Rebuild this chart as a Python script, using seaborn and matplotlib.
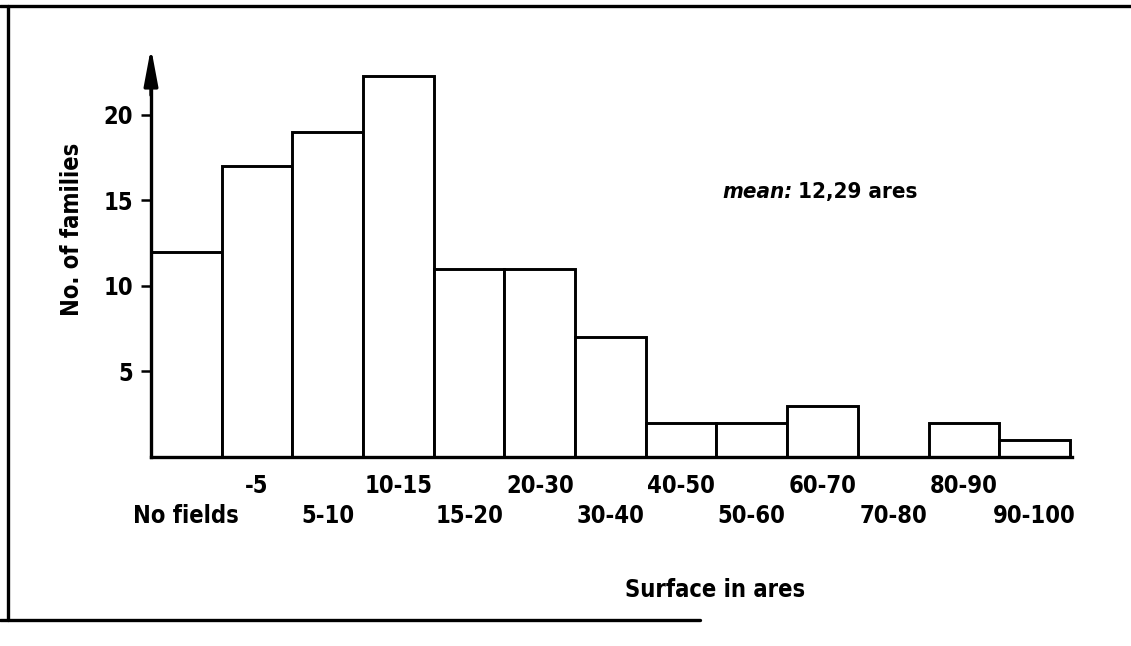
import matplotlib
matplotlib.use("Agg")
import matplotlib.pyplot as plt
from matplotlib.lines import Line2D
import seaborn as sns

# ---- data ----
categories = ["No fields", "-5", "5-10", "10-15", "15-20", "20-30", "30-40",
              "40-50", "50-60", "60-70", "70-80", "80-90", "90-100"]
families = [12, 17, 19, 22.3, 11, 11, 7, 2, 2, 3, 0, 2, 1]
yticks = [5, 10, 15, 20]
ylabel = "No. of families"
xlabel = "Surface in ares"
mean_label = "12,29 ares"

sns.set_style("white")
plt.rcParams["font.family"] = ["DejaVu Sans"]
plt.rcParams["font.stretch"] = "condensed"
plt.rcParams["font.weight"] = "bold"
plt.rcParams["text.color"] = "black"
plt.rcParams["xtick.color"] = "black"
plt.rcParams["ytick.color"] = "black"

FS = 17
W, H = 1131, 646
fig = plt.figure(figsize=(W / 100, H / 100), dpi=100)
ax = fig.add_axes([151 / W, (H - 457) / H, 921 / W, 402 / H])

sns.barplot(x=categories, y=families, color="white", edgecolor="black",
            linewidth=2.1, width=1.0, saturation=1, ax=ax)

ax.set_xlim(-0.5, 12.53)
ax.set_ylim(0, 23.5)

for s in ("top", "right"):
    ax.spines[s].set_visible(False)
for s in ("left", "bottom"):
    ax.spines[s].set_linewidth(2.4)
    ax.spines[s].set_color("black")
ax.spines["left"].set_bounds(0, 22.0)

# y axis arrow
ax.annotate("", xy=(0, 1.018), xycoords="axes fraction",
            xytext=(0, 0.90), textcoords="axes fraction",
            arrowprops=dict(arrowstyle="-|>,head_length=1.6,head_width=0.3",
                            color="black", lw=2.4, mutation_scale=14,
                            shrinkA=0, shrinkB=0),
            annotation_clip=False)

ax.set_yticks(yticks)
ax.set_yticklabels([str(v) for v in yticks], fontsize=FS, fontweight="bold")
ax.tick_params(axis="y", length=7, width=1.8, pad=6, left=True, colors="black")

ax.set_xticks(range(len(categories)))
ax.set_xticklabels(categories, fontsize=FS, fontweight="bold")
ax.tick_params(axis="x", length=0, colors="black")
for i, t in enumerate(ax.xaxis.get_major_ticks()):
    t.set_pad(34 if i % 2 == 0 else 12)

ax.set_xlabel("")
ax.set_ylabel("")

fig.text(72 / W, 1 - 229 / H, ylabel, rotation=90, ha="center", va="center",
         fontsize=FS, fontweight="bold")
fig.text(715 / W, 1 - 590 / H, xlabel, ha="center", va="center",
         fontsize=FS, fontweight="bold")
t_mean = fig.text(722 / W, 1 - 192 / H, "mean:", ha="left", va="center",
                  fontsize=16, fontweight="bold", style="italic")
fig.canvas.draw()
bb = t_mean.get_window_extent()
fig.text(bb.x1 / W + 6 / W, 1 - 192 / H, mean_label, ha="left", va="center",
         fontsize=16, fontweight="bold")

# outer frame (top, left, partial bottom)
lw = 2.4
fig.add_artist(Line2D([0, 1], [1 - 6 / H, 1 - 6 / H], color="black", lw=lw))
fig.add_artist(Line2D([8 / W, 8 / W], [1 - 6 / H, 1 - 620 / H], color="black", lw=lw))
fig.add_artist(Line2D([0, 700 / W], [1 - 620 / H, 1 - 620 / H], color="black", lw=lw))

fig.savefig("out.png", dpi=100)
